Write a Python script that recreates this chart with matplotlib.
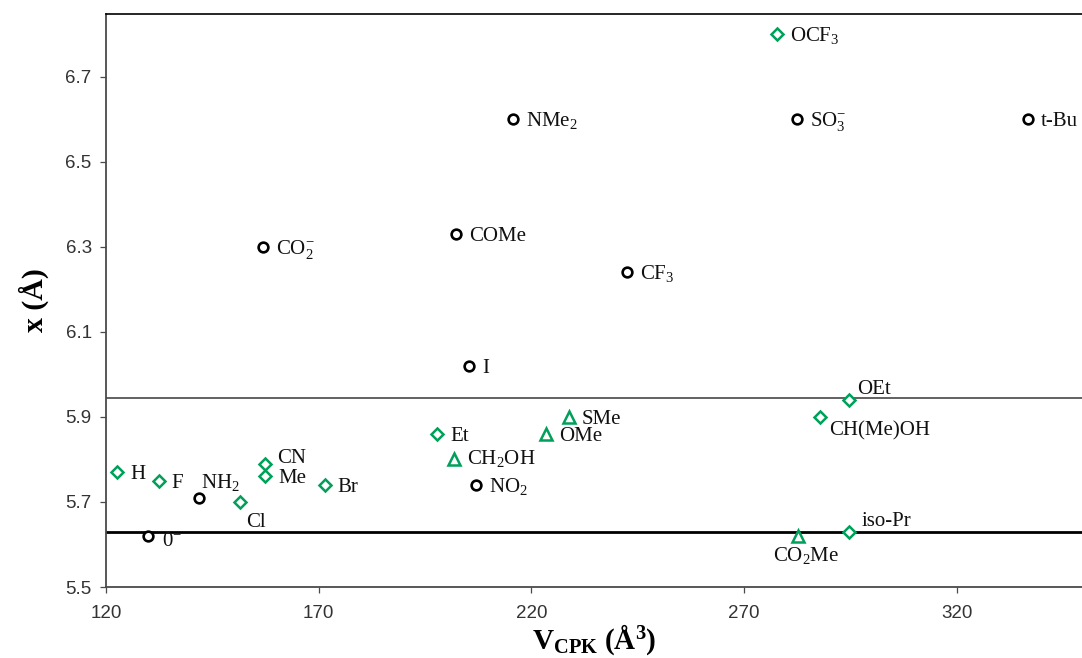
import numpy as np
import matplotlib
matplotlib.use('Agg')
import matplotlib.pyplot as plt

# lettertype zoals in het origineel (Times-achtig voor de labels)
plt.rcParams['mathtext.fontset'] = 'custom'
plt.rcParams['mathtext.rm'] = 'Liberation Serif'
plt.rcParams['mathtext.it'] = 'Liberation Serif:italic'
plt.rcParams['mathtext.bf'] = 'Liberation Serif:bold'

# zwarte open cirkels
circ_names = ['0$^{-}$', 'NH$_2$', 'CO$_2^{-}$', 'COMe', 'I', 'NO$_2$',
              'NMe$_2$', 'CF$_3$', 'SO$_3^{-}$', 't-Bu']
circ_v = [129.8, 141.9, 156.9, 202.4, 205.3, 206.9, 215.8, 242.5, 282.4, 336.7]
circ_x = [5.62, 5.71, 6.30, 6.33, 6.02, 5.74, 6.60, 6.24, 6.60, 6.60]

# groene ruiten
diam_names = ['H', 'F', 'Cl', 'CN', 'Me', 'Br', 'Et', 'OCF$_3$',
              'CH(Me)OH', 'OEt', 'iso-Pr']
diam_v = [122.7, 132.4, 151.6, 157.5, 157.5, 171.4, 197.9, 277.7, 287.8, 294.6, 294.6]
diam_x = [5.77, 5.75, 5.70, 5.79, 5.76, 5.74, 5.86, 6.80, 5.90, 5.94, 5.63]

# groene driehoeken
tri_names = ['CH$_2$OH', 'OMe', 'SMe', 'CO$_2$Me']
tri_v = [201.9, 223.4, 228.9, 282.7]
tri_x = [5.80, 5.86, 5.90, 5.62]

# horizontale grenslijnen
lijn_boven = 5.945
lijn_onder = 5.63

# verschuiving van de labels t.o.v. het punt (pixels), standaard rechts ernaast
label_offset = {'NH$_2$': (2, 10), 'Cl': (6, -25), 'CN': (12, 1), '0$^{-}$': (14, -10),
                'CH$_2$OH': (13, -5), 'OEt': (9, 6), 'CH(Me)OH': (10, -19),
                'CO$_2$Me': (-25, -25), 'iso-Pr': (13, 6)}

groen = '#00A05A'
grijs = '#4a4a4a'

fig = plt.figure(figsize=(10.82, 6.58), dpi=100)
ax = fig.add_axes([106/1082, 1 - 587/658, 1 - 106/1082, 573/658])

ax.axhline(lijn_boven, color='#555555', lw=1.3, zorder=1)
ax.axhline(lijn_onder, color='black', lw=2.0, zorder=1)

ax.plot(circ_v, circ_x, 'o', ls='none', mfc='white', mec='black', ms=7, mew=1.9, zorder=3)
ax.plot(diam_v, diam_x, 'D', ls='none', mfc='white', mec=groen, ms=6.3, mew=1.8, zorder=3)
ax.plot(tri_v, tri_x, '^', ls='none', mfc='white', mec=groen, ms=8.5, mew=1.8, zorder=3)

for names, vs, xs in [(circ_names, circ_v, circ_x), (diam_names, diam_v, diam_x),
                      (tri_names, tri_v, tri_x)]:
    for n, v, x in zip(names, vs, xs):
        dx, dy = label_offset.get(n, (13, -7))
        ax.annotate(n, (v, x), xytext=(dx, dy), textcoords='offset pixels',
                    ha='left', va='baseline', fontsize=15, family='Liberation Serif',
                    color='#111111')

ax.set_xlim(120, 349.5)
ax.set_ylim(5.5, 6.848)
ax.set_xticks([120, 170, 220, 270, 320])
ax.set_yticks([5.5, 5.7, 5.9, 6.1, 6.3, 6.5, 6.7])
ax.set_yticklabels(['5.5', '5.7', '5.9', '6.1', '6.3', '6.5', '6.7'])
ax.tick_params(axis='both', direction='out', length=4.3, width=0.9, color=grijs,
               labelsize=13.5, labelcolor='#333333')
ax.tick_params(axis='x', pad=9)
ax.tick_params(axis='y', pad=6)
for lab in ax.get_xticklabels() + ax.get_yticklabels():
    lab.set_family('Liberation Sans')

ax.spines['right'].set_visible(False)
ax.spines['top'].set_color('black')
ax.spines['top'].set_linewidth(1.2)
ax.spines['left'].set_color(grijs)
ax.spines['left'].set_linewidth(1.3)
ax.spines['bottom'].set_color(grijs)
ax.spines['bottom'].set_linewidth(1.3)

ax.set_xlabel(r'$\mathbf{V_{CPK}\ (Å^{3})}$', fontsize=21)
ax.xaxis.set_label_coords(0.5, (587 - 649) / 573)
ax.xaxis.label.set_va('baseline')

ax.set_ylabel('x (Å)', fontsize=21.5, fontweight='bold', family='Liberation Serif')
ax.yaxis.set_label_coords((34 - 106) / 976, 0.5)
ax.yaxis.label.set_va('center')

fig.savefig('out.png', dpi=100)
